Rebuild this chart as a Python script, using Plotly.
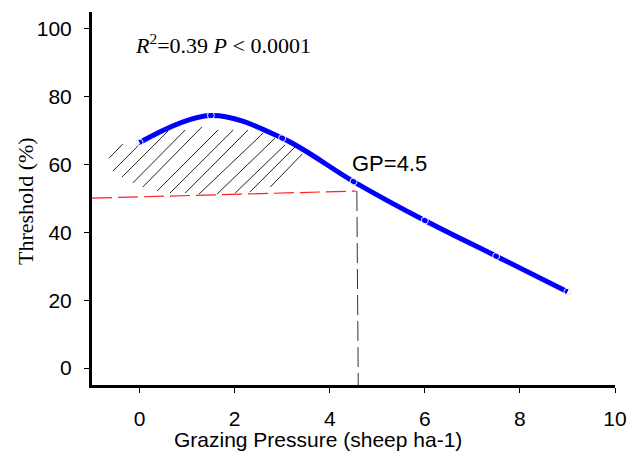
import plotly.graph_objects as go

# Fitted curve / observed points
gp = [0, 1.5, 3, 4.5, 6, 7.5, 9]
threshold = [66.5, 74.5, 67.8, 55.0, 43.5, 33.0, 22.5]

# Threshold guide lines
red_x = [-1, 4.55]
red_y = [50.1, 52.2]
vert_x = [4.57, 4.60]
vert_y = [52.2, -5]

# Hatched region segments (start/end)
hatch_x0 = [-0.64, -0.56, -0.37, -0.14, 0.07, 0.37, 0.64, 0.96, 1.25, 1.63, 2.01, 2.32, 2.75]
hatch_y0 = [61.9, 58.1, 56.3, 54.6, 53.4, 52.2, 51.6, 51.6, 51.3, 51.3, 51.6, 51.9, 53.4]
hatch_x1 = [-0.35, 0.05, 0.60, 0.96, 1.31, 1.65, 1.97, 2.28, 2.60, 2.85, 3.06, 3.27, 3.42]
hatch_y1 = [66.1, 66.7, 69.9, 70.2, 71.1, 70.2, 70.2, 70.2, 69.3, 67.8, 65.8, 65.2, 63.1]

x_ticks = [0, 2, 4, 6, 8, 10]
y_ticks = [0, 20, 40, 60, 80, 100]

hx, hy = [], []
for a, b, c, d in zip(hatch_x0, hatch_y0, hatch_x1, hatch_y1):
    hx += [a, c, None]
    hy += [b, d, None]

fig = go.Figure()
fig.add_trace(go.Scatter(x=hx, y=hy, mode="lines",
                         line=dict(color="#222222", width=1), hoverinfo="skip"))
fig.add_trace(go.Scatter(x=red_x, y=red_y, mode="lines",
                         line=dict(color="#FF2020", width=1.2, dash="20px,6px")))
fig.add_trace(go.Scatter(x=vert_x, y=vert_y, mode="lines",
                         line=dict(color="#333333", width=1, dash="20px,6px")))
fig.add_trace(go.Scatter(x=gp, y=threshold, mode="lines+markers",
                         line=dict(color="#0000FF", width=5, shape="spline", smoothing=1.0),
                         marker=dict(symbol="circle-open", size=7, color="#E8EEFF",
                                     line=dict(width=1))))

fig.add_annotation(x=4.43, y=60.2, xref="x", yref="y", text="GP=4.5",
                   showarrow=False, xanchor="left", yanchor="middle",
                   font=dict(family="Arial, 'Liberation Sans'", size=22, color="black"))
fig.add_annotation(x=(133 - 92) / 523, y=(385 - 44) / 373, xref="paper", yref="paper",
                   text="<i>R</i><sup>2</sup>=0.39 <i>P</i> &lt; 0.0001",
                   showarrow=False, xanchor="left", yanchor="middle",
                   font=dict(family="'Liberation Serif', serif", size=22, color="black"))
fig.add_annotation(x=(318 - 92) / 523, y=(385 - 440) / 373, xref="paper", yref="paper",
                   text="Grazing Pressure (sheep ha-1)", showarrow=False,
                   xanchor="center", yanchor="middle",
                   font=dict(family="Arial, 'Liberation Sans'", size=21, color="black"))
fig.add_annotation(x=(25 - 92) / 523, y=(385 - 201) / 373, xref="paper", yref="paper",
                   text="Threshold (%)", showarrow=False, textangle=-90,
                   xanchor="center", yanchor="middle",
                   font=dict(family="'Liberation Serif', serif", size=22, color="black"))

fig.update_layout(
    width=633, height=456,
    margin=dict(l=92, r=18, t=12, b=71, autoexpand=False),
    plot_bgcolor="white", paper_bgcolor="white",
    showlegend=False,
    xaxis=dict(range=[-1, 10], tickvals=x_ticks, showgrid=False, zeroline=False,
               automargin=False,
               showline=True, linecolor="black", linewidth=3,
               ticks="outside", ticklen=5, tickwidth=1, tickcolor="black",
               ticklabelstandoff=8,
               tickfont=dict(family="Arial, 'Liberation Sans'", size=21, color="black")),
    yaxis=dict(range=[-5, 105], tickvals=y_ticks, showgrid=False, zeroline=False,
               automargin=False,
               showline=True, linecolor="black", linewidth=3,
               ticks="outside", ticklen=5, tickwidth=1, tickcolor="black",
               ticklabelstandoff=8,
               tickfont=dict(family="Arial, 'Liberation Sans'", size=21, color="black")),
)

fig.write_html("out.html")
